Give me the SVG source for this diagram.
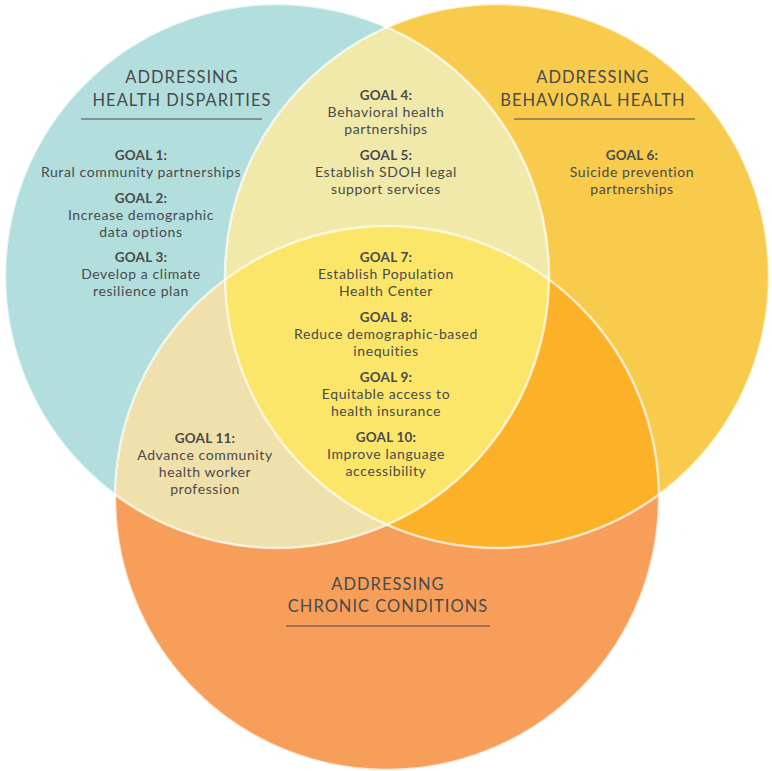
<svg xmlns="http://www.w3.org/2000/svg" width="772" height="771" viewBox="0 0 772 771">
  <style>
    .t { font-family: Lato, "Liberation Sans", sans-serif; font-size: 14px; fill: #4a4a4a; text-anchor: middle; letter-spacing: 0.6px; }
    .g { font-weight: bold; font-size: 13.5px; letter-spacing: 0.2px; }
    .h { font-family: Lato, "Liberation Sans", sans-serif; font-size: 16.5px; fill: #4a4a4a; text-anchor: middle; letter-spacing: 1px; }
    .rule { stroke: #4a4a4a; stroke-width: 1.2; }
    .edge { fill: none; stroke: #ffffff; stroke-width: 2.5; stroke-opacity: 0.7; }
  </style>
  <defs>
    <clipPath id="cT"><circle cx="277" cy="276" r="272"/></clipPath>
    <clipPath id="cY"><circle cx="497" cy="276" r="272"/></clipPath>
    <clipPath id="cO"><circle cx="387" cy="497" r="272"/></clipPath>
  </defs>

  <g id="circle-disparities"><circle cx="277" cy="276" r="272" fill="#B2DFDD"/></g>
  <g id="circle-behavioral"><circle cx="497" cy="276" r="272" fill="#F9CB4C"/></g>
  <g id="circle-chronic"><circle cx="387" cy="498" r="272" fill="#F79F5A"/></g>

  <g id="overlap-disparities-behavioral" clip-path="url(#cT)"><circle cx="497" cy="276" r="272" fill="#F0E9A9"/></g>
  <g id="overlap-disparities-chronic" clip-path="url(#cT)"><circle cx="387" cy="498" r="272" fill="#F0E0AB"/></g>
  <g id="overlap-behavioral-chronic" clip-path="url(#cY)"><circle cx="387" cy="498" r="272" fill="#FBB128"/></g>
  <g id="overlap-center" clip-path="url(#cT)"><g clip-path="url(#cY)"><circle cx="387" cy="498" r="272" fill="#FCE66A"/></g></g>

  <g id="edges">
    <circle class="edge" cx="277" cy="276" r="272"/>
    <circle class="edge" cx="497" cy="276" r="272"/>
    <circle class="edge" cx="387" cy="498" r="272"/>
  </g>

  <g id="heading-disparities">
    <text class="h" x="182" y="83">ADDRESSING</text>
    <text class="h" x="182" y="106">HEALTH DISPARITIES</text>
    <line class="rule" x1="81" y1="119" x2="262" y2="119"/>
  </g>
  <g id="heading-behavioral">
    <text class="h" x="593" y="83">ADDRESSING</text>
    <text class="h" x="593" y="106">BEHAVIORAL HEALTH</text>
    <line class="rule" x1="514" y1="119" x2="695" y2="119"/>
  </g>
  <g id="heading-chronic">
    <text class="h" x="388" y="590">ADDRESSING</text>
    <text class="h" x="388" y="612">CHRONIC CONDITIONS</text>
    <line class="rule" x1="286" y1="626" x2="490" y2="626"/>
  </g>

  <g id="goal-1">
    <text class="t g" x="141" y="160">GOAL 1:</text>
    <text class="t" x="141" y="177">Rural community partnerships</text>
  </g>
  <g id="goal-2">
    <text class="t g" x="141" y="203">GOAL 2:</text>
    <text class="t" x="141" y="220">Increase demographic</text>
    <text class="t" x="141" y="237">data options</text>
  </g>
  <g id="goal-3">
    <text class="t g" x="141" y="262">GOAL 3:</text>
    <text class="t" x="141" y="279">Develop a climate</text>
    <text class="t" x="141" y="296">resilience plan</text>
  </g>
  <g id="goal-4">
    <text class="t g" x="386" y="100">GOAL 4:</text>
    <text class="t" x="386" y="117">Behavioral health</text>
    <text class="t" x="386" y="134">partnerships</text>
  </g>
  <g id="goal-5">
    <text class="t g" x="386" y="160">GOAL 5:</text>
    <text class="t" x="386" y="177">Establish SDOH legal</text>
    <text class="t" x="386" y="194">support services</text>
  </g>
  <g id="goal-6">
    <text class="t g" x="632" y="160">GOAL 6:</text>
    <text class="t" x="632" y="177">Suicide prevention</text>
    <text class="t" x="632" y="194">partnerships</text>
  </g>
  <g id="goal-7">
    <text class="t g" x="386" y="262">GOAL 7:</text>
    <text class="t" x="386" y="279">Establish Population</text>
    <text class="t" x="386" y="296">Health Center</text>
  </g>
  <g id="goal-8">
    <text class="t g" x="386" y="322">GOAL 8:</text>
    <text class="t" x="386" y="339">Reduce demographic-based</text>
    <text class="t" x="386" y="356">inequities</text>
  </g>
  <g id="goal-9">
    <text class="t g" x="386" y="382">GOAL 9:</text>
    <text class="t" x="386" y="399">Equitable access to</text>
    <text class="t" x="386" y="416">health insurance</text>
  </g>
  <g id="goal-10">
    <text class="t g" x="386" y="442">GOAL 10:</text>
    <text class="t" x="386" y="459">Improve language</text>
    <text class="t" x="386" y="476">accessibility</text>
  </g>
  <g id="goal-11">
    <text class="t g" x="205" y="443">GOAL 11:</text>
    <text class="t" x="205" y="460">Advance community</text>
    <text class="t" x="205" y="477">health worker</text>
    <text class="t" x="205" y="494">profession</text>
  </g>
</svg>
